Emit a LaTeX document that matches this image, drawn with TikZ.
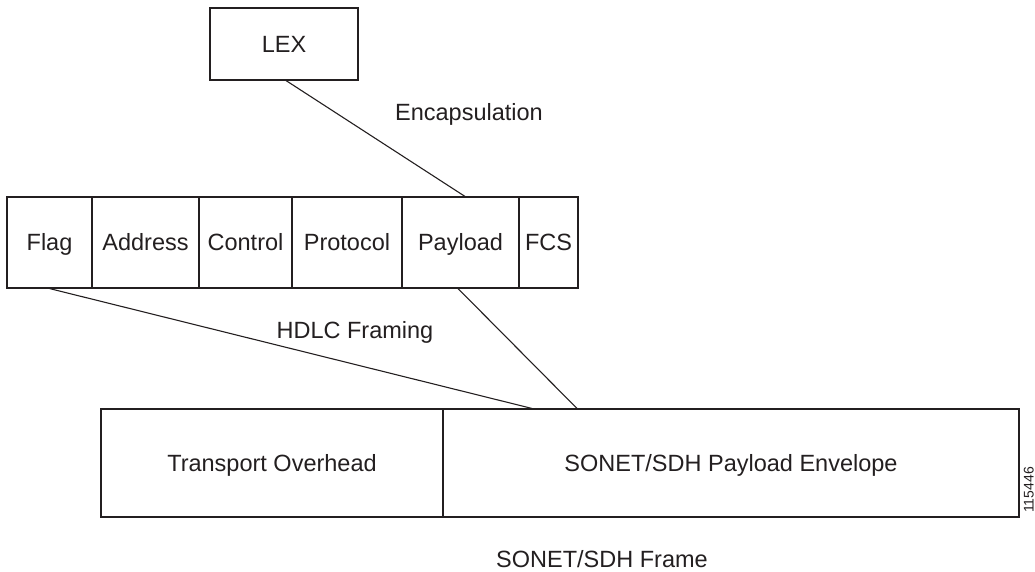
\documentclass[tikz,border=0pt]{standalone}
\usepackage{fontspec}
\setmainfont{Liberation Sans}
\definecolor{ink}{HTML}{231F20}
\begin{document}
\begin{tikzpicture}[x=1pt,y=-1pt,
  txt/.style={font=\fontsize{23.5}{27}\selectfont, text=ink, text height=16.8pt, text depth=0pt, inner sep=0pt},
  cell/.style={txt, draw=ink, line width=1.1pt, minimum height=91pt},
  conn/.style={draw=ink, line width=1.1pt}]
\useasboundingbox (0,0) rectangle (1035,572);
% LEX
\node[cell, minimum width=148pt, minimum height=72pt] (lex) at (284,44) {LEX};
% HDLC frame cells
\node[cell, minimum width=85pt]  (flag) at (49.5,242.5) {Flag};
\node[cell, minimum width=107pt] (addr) at (145.5,242.5) {Address};
\node[cell, minimum width=93pt]  (ctrl) at (245.5,242.5) {Control};
\node[cell, minimum width=110pt] (prot) at (347,242.5) {Protocol};
\node[cell, minimum width=117pt] (pay)  at (460.5,242.5) {Payload};
\node[cell, minimum width=59pt]  (fcs)  at (548.5,242.5) {FCS};
% SONET frame
\node[cell, minimum width=342pt, minimum height=108pt] (toh) at (272,463) {Transport Overhead};
\node[cell, minimum width=576pt, minimum height=108pt] (spe) at (731,463) {SONET/SDH Payload Envelope};
% labels
\node[txt] (enc)  at (469,112) {Encapsulation};
\node[txt] (hdlc) at (355,330) {HDLC Framing};
\node[txt] (sf)   at (602,559) {SONET/SDH Frame};
\node[txt, font=\fontsize{14}{16}\selectfont, text height=10pt, rotate=90] (fig) at (1028.5,490) {115446};
% connectors
\draw[conn] ([xshift=2pt]lex.south) -- ([xshift=4.5pt]pay.north);
\draw[conn] (flag.south) -- ([xshift=-199pt]spe.north);
\draw[conn] ([xshift=-2.5pt]pay.south) -- ([xshift=-154pt]spe.north);
\end{tikzpicture}
\end{document}
